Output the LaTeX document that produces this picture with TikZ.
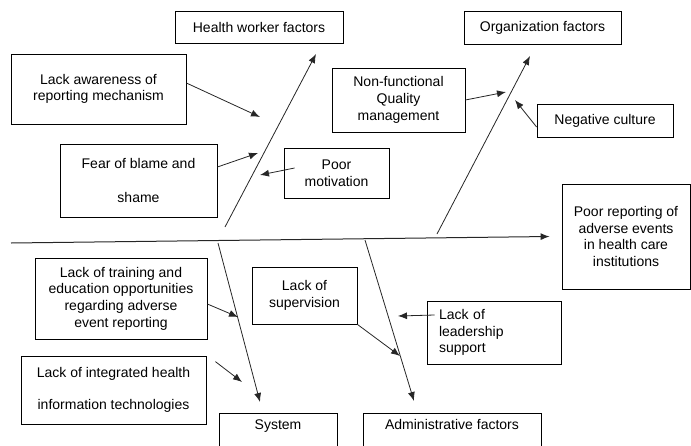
\documentclass[tikz,border=0pt]{standalone}
\usepackage{fontspec}
\setmainfont{Liberation Sans}
\usetikzlibrary{arrows.meta}
\begin{document}
\begin{tikzpicture}[x=1pt,y=-1pt,
  every node/.style={font=\fontsize{14}{16.7}\selectfont},
  box/.style={draw=black,line width=0.8pt,rectangle,inner sep=0pt,align=center},
  arr/.style={-{Latex[length=9pt,width=7pt]},line width=0.8pt,draw=black!85},
]
\useasboundingbox (0,0) rectangle (691,445);
\clip (0,0) rectangle (691,445);

% category boxes
\node[box,minimum width=168pt,minimum height=32pt] (hw) at (259,27) {Health worker factors};
\node[box,minimum width=157pt,minimum height=33pt] (org) at (542.5,27.5) {Organization factors};
\node[box,anchor=north,minimum width=118pt,minimum height=50pt,
      label={[anchor=north,yshift=-3pt]north:System}] (sys) at (278,413) {};
\node[box,anchor=north,minimum width=178pt,minimum height=50pt,
      label={[anchor=north,yshift=-3pt]north:Administrative factors}] (adm) at (452,413) {};

% effect
\node[box,minimum width=128pt,minimum height=105pt] (poor) at (626,236.5)
  {Poor reporting of\\adverse events\\in health care\\institutions};

% causes
\node[box,minimum width=175pt,minimum height=70pt] (lam) at (98.5,89) {Lack awareness of\\reporting mechanism};
\node[box,minimum width=157pt,minimum height=73pt] (fear) at (138.5,180.5) {Fear of blame and\\[17pt]shame};
\node[box,minimum width=105pt,minimum height=50pt] (pm) at (336.5,173) {Poor\\motivation};
\node[box,minimum width=133pt,minimum height=64pt] (nfq) at (398.5,100) {Non-functional\\Quality\\management};
\node[box,minimum width=136pt,minimum height=33pt] (neg) at (605,120.5) {Negative culture};
\node[box,minimum width=172pt,minimum height=81pt] (trn) at (121,298.5)
  {Lack of training and\\education opportunities\\regarding adverse\\event reporting};
\node[box,minimum width=185pt,minimum height=68pt] (lih) at (113.5,390)
  {Lack of integrated health\\[15pt]information technologies};
\node[box,minimum width=105pt,minimum height=57pt] (sup) at (304.5,295.5) {Lack of\\supervision};
\node[box,align=left,text width=110pt,inner xsep=12pt,minimum height=63pt] (lls) at (494,332.5)
  {Lack of\\leadership\\support};

% free ends
\coordinate (spL) at (11,243);
\coordinate (hwS) at (225,227);
\coordinate (hwT) at (316,54);
\coordinate (orgS) at (437,234);
\coordinate (orgT) at (530,56);
\coordinate (sysS) at (218,243);
\coordinate (sysT) at (260,402);
\coordinate (admS) at (365,240);
\coordinate (admT) at (414,401);

\coordinate (t1) at (260,117);
\coordinate (t2) at (258,153);
\coordinate (t3) at (260,175);
\coordinate (t4) at (506,92);
\coordinate (t5) at (515,100);
\coordinate (t6) at (238,317);
\coordinate (t7) at (242,382);
\coordinate (t8) at (400,356);
\coordinate (t9) at (398,316);

% spine
\draw[arr,line width=1pt] (spL) -- ([xshift=-12pt]poor.west);

% bones
\draw[arr] (hwS) -- (hwT);
\draw[arr] (orgS) -- (orgT);
\draw[arr] (sysS) -- (sysT);
\draw[arr] (admS) -- (admT);

% cause arrows
\draw[arr] ([yshift=6pt]lam.east) -- (t1);
\draw[arr] ([yshift=13.5pt]fear.east) -- (t2);
\draw[arr] ([xshift=11pt,yshift=5pt]pm.west) -- (t3);
\draw[arr] (nfq.east) -- (t4);
\draw[arr] ([yshift=-6.5pt]neg.west) -- (t5);
\draw[arr] ([yshift=-5.5pt]trn.east) -- (t6);
\draw[arr] ([xshift=9pt,yshift=-6pt]lih.north east) -- (t7);
\draw[arr] (sup.south east) -- (t8);
\draw[arr] ([xshift=8pt,yshift=17.5pt]lls.west) -- (t9);
\end{tikzpicture}
\end{document}
